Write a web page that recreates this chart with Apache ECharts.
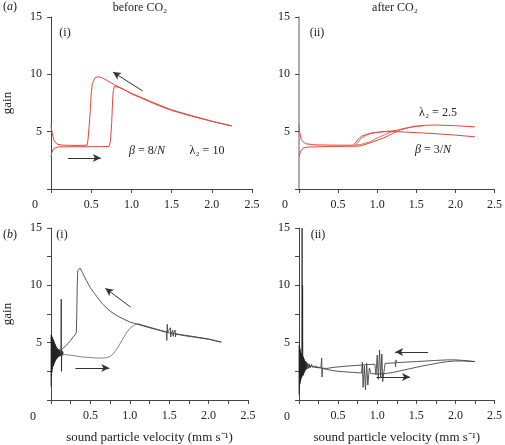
<!DOCTYPE html>
<html><head><meta charset="utf-8">
<script src="https://cdn.jsdelivr.net/npm/echarts@6/dist/echarts.min.js"></script>
<style>html,body{margin:0;padding:0;background:#fff}#c{width:505px;height:445px}</style>
</head><body><div id="c"></div>
<script>
// ---------- tick labels ----------
const xTickLabels = ['0', '0.5', '1.0', '1.5', '2.0', '2.5'];
const yTickLabels = ['0', '5', '10', '15'];

// ---------- (a)(i) before CO2, model ----------
const aiForward = [[0,2.8],[0.01,3.2],[0.03,3.5],[0.06,3.62],[0.1,3.67],[0.3,3.69],[0.5,3.69],[0.72,3.7],[0.74,4.2],[0.755,5.8],[0.765,7.5],[0.775,8.6],[0.79,8.95],[0.85,8.85],[0.9,8.7],[1.0,8.3],[1.1,8.0],[1.2,7.7],[1.35,7.25],[1.5,6.85],[1.75,6.35],[2.0,5.9],[2.15,5.65],[2.25,5.5]];
const aiBackward = [[2.25,5.5],[2.0,5.92],[1.75,6.4],[1.5,6.9],[1.25,7.6],[1.0,8.35],[0.8,9.05],[0.7,9.45],[0.65,9.65],[0.61,9.76],[0.58,9.78],[0.55,9.72],[0.53,9.55],[0.515,9.2],[0.5,8.3],[0.49,7.0],[0.475,5.5],[0.46,4.3],[0.45,3.82],[0.3,3.8],[0.15,3.82],[0.08,3.9],[0.04,4.2],[0.02,4.7],[0.005,5.3],[0,5.6]];

// ---------- (a)(ii) after CO2, model ----------
const aiiForward1 = [[0,2.8],[0.02,3.3],[0.05,3.55],[0.1,3.65],[0.3,3.7],[0.6,3.72],[0.78,3.75],[0.9,4.0],[1.0,4.25],[1.1,4.5],[1.2,4.85],[1.3,5.15],[1.45,5.45],[1.6,5.55],[1.75,5.58],[2.0,5.52],[2.25,5.42]];
const aiiBackward1 = [[2.25,4.55],[2.0,4.7],[1.75,4.82],[1.5,4.92],[1.25,5.0],[1.1,5.0],[1.0,4.95],[0.9,4.85],[0.8,4.6],[0.75,4.3],[0.72,4.0],[0.69,3.82],[0.5,3.82],[0.2,3.85],[0.08,3.95],[0.03,4.3],[0.01,4.9],[0,5.6]];
const aiiForward2 = [[0.7,3.8],[0.8,3.9],[0.9,4.1],[1.0,4.45],[1.1,4.75],[1.2,5.05],[1.35,5.3],[1.5,5.45],[1.6,5.52]];
const aiiBackward2 = [[1.25,5.1],[1.1,5.02],[0.98,4.92],[0.88,4.75],[0.8,4.45],[0.75,4.05],[0.72,3.8]];

// ---------- (b)(i) before CO2, measured ----------
const biNoise = [[0,1.2],[0.003,5.7],[0.006,2.0],[0.009,5.6],[0.012,2.4],[0.015,5.5],[0.018,2.7],[0.021,5.4],[0.024,2.9],[0.027,5.3],[0.03,3.0],[0.033,5.2],[0.036,3.1],[0.039,5.1],[0.042,3.2],[0.045,5.0],[0.048,3.3],[0.051,4.9],[0.054,3.4],[0.057,4.8],[0.06,3.5],[0.063,4.7],[0.066,3.55],[0.069,4.6],[0.072,3.6],[0.075,4.55],[0.078,3.65],[0.081,4.5],[0.085,3.7],[0.089,4.45],[0.093,3.75],[0.097,4.4],[0.1,3.8],[0.105,4.35],[0.11,3.82],[0.115,4.3],[0.12,3.85],[0.126,4.25],[0.13,8.8],[0.133,2.5],[0.136,4.1],[0.142,4.3],[0.148,3.9],[0.155,4.2]];
const biForward = [[0.155,3.95],[0.2,3.95],[0.3,3.85],[0.4,3.75],[0.5,3.7],[0.6,3.65],[0.7,3.68],[0.75,3.8],[0.8,4.1],[0.85,4.6],[0.9,5.2],[0.95,5.8],[1.0,6.25],[1.05,6.5],[1.1,6.65]];
const biUpper = [[1.1,6.65],[1.25,6.35],[1.4,6.05],[1.465,5.95],[1.47,5.2],[1.475,6.6],[1.48,5.9],[1.5,5.9],[1.515,6.3],[1.52,5.5],[1.525,5.85],[1.545,6.1],[1.55,5.55],[1.555,5.8],[1.575,6.1],[1.58,5.5],[1.585,5.75],[1.7,5.6],[1.85,5.45],[2.0,5.3],[2.16,5.05]];
const biBackward = [[2.16,5.05],[2.0,5.32],[1.75,5.6],[1.5,5.85],[1.25,6.3],[1.0,6.8],[0.85,7.3],[0.75,7.75],[0.65,8.4],[0.55,9.3],[0.5,9.8],[0.45,10.4],[0.4,11.1],[0.37,11.5],[0.35,11.55],[0.34,11.3],[0.333,10.0],[0.327,7.5],[0.322,5.9],[0.31,5.7],[0.28,5.5],[0.25,5.2],[0.2,4.8],[0.15,4.5],[0.12,4.35],[0.1,4.3],[0.06,4.5]];

// ---------- (b)(ii) after CO2, measured ----------
const biiNoise = [[0,0.5],[0.003,4.8],[0.006,1.0],[0.009,4.6],[0.012,1.4],[0.015,4.4],[0.018,1.6],[0.021,4.2],[0.024,1.8],[0.027,4.1],[0.03,1.9],[0.033,4.0],[0.036,2.0],[0.04,15],[0.043,2.2],[0.046,10],[0.049,2.1],[0.052,3.8],[0.055,2.2],[0.058,3.7],[0.061,2.3],[0.064,3.6],[0.067,2.4],[0.07,3.5],[0.074,2.5],[0.078,3.4],[0.082,2.6],[0.086,3.35],[0.09,2.65],[0.095,3.3],[0.1,2.7],[0.11,3.2],[0.12,2.75],[0.13,3.15],[0.14,2.8],[0.16,3.1],[0.18,2.85],[0.2,3.0]];
const biiForward = [[0.2,2.95],[0.28,2.8],[0.29,3.66],[0.295,2.0],[0.3,2.75],[0.4,2.6],[0.5,2.5],[0.6,2.45],[0.7,2.4],[0.8,2.35],[0.81,3.3],[0.82,1.1],[0.835,3.0],[0.85,0.9],[0.865,3.2],[0.88,1.3],[0.9,2.8],[0.92,2.3],[1.0,2.27],[1.1,2.3],[1.2,2.4],[1.3,2.55],[1.4,2.7],[1.5,2.85],[1.6,3.0],[1.7,3.12],[1.8,3.25],[1.9,3.35],[2.0,3.4],[2.1,3.4],[2.25,3.35]];
const biiBackward = [[2.25,3.35],[2.1,3.45],[2.0,3.5],[1.9,3.5],[1.75,3.45],[1.5,3.35],[1.3,3.28],[1.245,3.26],[1.24,3.5],[1.235,2.9],[1.23,3.25],[1.1,3.18],[1.08,3.15],[1.07,1.6],[1.06,4.0],[1.045,2.0],[1.03,4.36],[1.015,1.8],[1.0,3.9],[0.985,2.2],[0.97,3.12],[0.8,3.05],[0.6,2.95],[0.45,2.85],[0.35,2.75],[0.3,2.78],[0.2,2.85],[0.12,3.0],[0.08,3.2]];

// ---------- direction arrows (data coords: from -> to) ----------
const arrowsAi = [[[0.21,2.7],[0.62,2.7]], [[1.14,8.55],[0.77,10.2]]];
const arrowsBi = [[[0.31,2.8],[0.74,2.8]], [[1.01,8.1],[0.69,9.75]]];
const arrowsBii = [[[1.65,4.18],[1.23,4.18]], [[0.99,2.0],[1.42,2.0]]];

const RED = '#e5463d';
const DARK = '#222';
const GRAY = '#777';
const FONT = 'Liberation Serif';
const TXT = '#222';

function fmtX(v) {
  if (Math.abs(v) < 1e-9) return '';
  const idx = Math.round(v / 0.5);
  if (Math.abs(v - idx * 0.5) > 1e-6) return '';
  return xTickLabels[idx] || '';
}
function fmtY(v) {
  if (Math.abs(v) < 1e-9) return '';
  const idx = Math.round(v / 5);
  if (Math.abs(v - idx * 5) > 1e-6) return '';
  return yTickLabels[idx] || '';
}

const grids = [
  {left: 50, top: 17, width: 202, height: 172},
  {left: 299, top: 17, width: 198, height: 172},
  {left: 48, top: 228, width: 200, height: 172},
  {left: 299, top: 228, width: 199, height: 172}
];

function xAxis(i) {
  const isB = i >= 2;
  return {
    type: 'value', gridIndex: i, min: 0, max: 2.5, interval: isB ? 0.25 : 0.5,
    name: isB ? 'sound particle velocity (mm s\u207B\u00B9)' : '',
    nameLocation: 'middle', nameGap: 31,
    nameTextStyle: {fontFamily: FONT, fontSize: 13, color: TXT},
    axisLine: {lineStyle: {color: '#444', width: 1}},
    axisTick: {show: true, inside: false, length: 4, lineStyle: {color: '#444'}},
    axisLabel: {formatter: fmtX, fontFamily: FONT, fontSize: 12, color: TXT, margin: 10},
    splitLine: {show: false}
  };
}
function yAxis(i) {
  const isB = i >= 2;
  const isLeft = (i % 2) === 0;
  return {
    type: 'value', gridIndex: i, min: 0, max: 15, interval: isB ? 2.5 : 5,
    name: isLeft ? 'gain' : '', nameLocation: 'middle', nameGap: 37, nameRotate: 90,
    nameTextStyle: {fontFamily: FONT, fontSize: 13, color: TXT},
    axisLine: {lineStyle: {color: i === 1 ? '#999' : '#444', width: i === 1 ? 1.6 : 1}},
    axisTick: {show: true, inside: false, length: 4, lineStyle: {color: '#444'}},
    axisLabel: {formatter: fmtY, fontFamily: FONT, fontSize: 12, color: TXT, margin: 9},
    splitLine: {show: false}
  };
}

function line(i, data, color, width) {
  return {type: 'line', xAxisIndex: i, yAxisIndex: i, data: data, showSymbol: false,
    symbol: 'none', silent: true, animation: false,
    lineStyle: {color: color, width: width || 1}};
}
function arrows(i, list) {
  return {type: 'line', xAxisIndex: i, yAxisIndex: i, data: [], silent: true, animation: false,
    markLine: {silent: true, animation: false, symbol: ['none', 'arrow'], symbolSize: [6, 8],
      label: {show: false},
      lineStyle: {color: '#333', width: 1, type: 'solid'},
      data: list.map(a => [{coord: a[0]}, {coord: a[1]}])}};
}

const series = [
  line(0, aiForward, RED), line(0, aiBackward, RED), arrows(0, arrowsAi),
  line(1, aiiForward1, RED), line(1, aiiBackward1, RED), line(1, aiiForward2, RED, 0.8), line(1, aiiBackward2, RED, 0.8),
  line(2, biNoise, DARK, 0.8), line(2, biForward, GRAY, 0.9), line(2, biUpper, '#444', 0.9), line(2, biBackward, '#444', 0.9), arrows(2, arrowsBi),
  line(3, biiNoise, DARK, 0.8), line(3, biiForward, '#444', 0.9), line(3, biiBackward, '#444', 0.9), arrows(3, arrowsBii)
];

function txt(x, y, text, extra) {
  const fs = (extra && extra.fontSize) || 12;
  return {type: 'text', x: x, y: y, silent: true,
    style: Object.assign({text: text, fontFamily: FONT, fontSize: 12, fill: TXT, align: 'center', verticalAlign: 'middle',
      rich: {i: {fontFamily: FONT, fontSize: fs, fontStyle: 'italic', fill: TXT}}}, extra || {})};
}

const graphic = [
  txt(10, 7, '({i|a})'),
  txt(10, 235, '({i|b})'),
  txt(140, 8, 'before CO\u2082'),
  txt(395, 8, 'after CO\u2082'),
  txt(65, 33, '(i)'), txt(317, 33, '(ii)'),
  txt(62, 235, '(i)'), txt(318, 235, '(ii)'),
  txt(35, 205, '0'), txt(285, 205, '0'), txt(33, 417, '0'), txt(287, 417, '0'),
  txt(147, 151, '{i|\u03B2} = 8/{i|N}'),
  txt(207, 151, '\u03BB\u2082 = 10'),
  txt(438, 113, '\u03BB\u2082 = 2.5'),
  txt(433, 150, '{i|\u03B2} = 3/{i|N}')
];

const chart = echarts.init(document.getElementById('c'), null, {renderer: 'canvas'});
chart.setOption({
  animation: false,
  backgroundColor: '#fff',
  grid: grids,
  xAxis: [0,1,2,3].map(i => xAxis(i)),
  yAxis: [0,1,2,3].map(i => yAxis(i)),
  series: series,
  graphic: graphic
});
</script></body></html>
